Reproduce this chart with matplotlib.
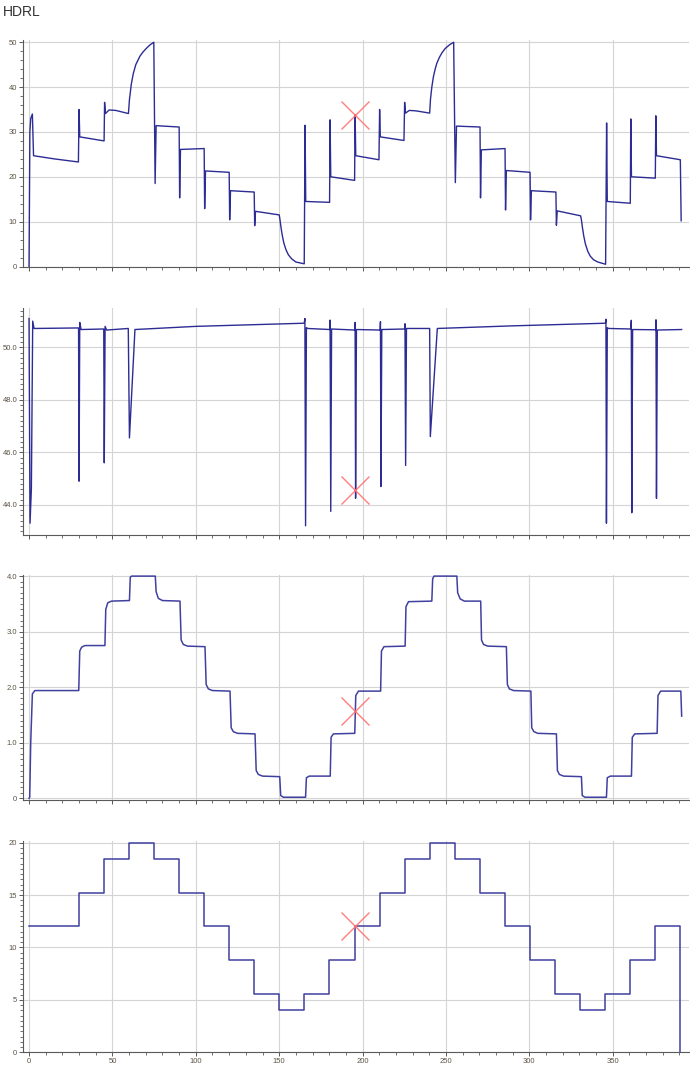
import numpy as np
import matplotlib
matplotlib.use("Agg")
import matplotlib.pyplot as plt
from matplotlib.ticker import MultipleLocator, FuncFormatter

# ==============================
# data
# ==============================

# panel 1
p1_x = [0, 0.5, 1.0, 2.0, 2.7, 15, 29.6,
        30.0, 30.4, 45,
        45.3, 45.8, 48, 52, 59.6,
        60.2, 61.3, 62.5, 64, 66.5, 68.5, 70.5, 72.5, 74.8,
        75.6, 76.2, 90, 90.3, 90.8, 105, 105.3, 105.8, 120, 120.3, 120.8, 135, 135.3, 135.8, 150,
        150.4, 151.0, 151.8, 152.8, 154.0, 155.5, 157.5, 160, 165,
        165.5, 165.9, 180.2, 180.5, 180.9, 195.2, 195.5, 195.9, 209.8, 210.2, 210.6, 224.8,
        225.2, 225.7, 228, 232, 240.2,
        240.7, 241.5, 242.5, 243.5, 244.5, 246, 247.5, 249.5, 252, 254.6,
        255.6, 256.3, 270.4, 270.7, 271.2, 285.4, 285.7, 286.2, 300.4, 300.7, 301.2, 315.9,
        316.2, 316.7, 330.7,
        331.2, 331.8, 332.6, 333.6, 335.0, 336.5, 338.5, 341, 345.7,
        346.3, 346.7, 360.5, 360.8, 361.2, 375.5, 375.8, 376.2, 390.5, 391.0]
p1_y = [0, 30, 33, 34, 24.7, 24.0, 23.3,
        35.0, 28.9, 28.0,
        36.6, 34.1, 34.9, 34.8, 34.1,
        37.2, 40.6, 43.0, 45.0, 46.9, 47.9, 48.7, 49.4, 50.0,
        18.5, 31.4, 31.1, 15.3, 26.1, 26.3, 12.9, 21.3, 21.0, 10.4, 16.9, 16.6, 9.1, 12.3, 11.5,
        10.6, 8.9, 7.0, 5.2, 3.8, 2.6, 1.7, 1.0, 0.6,
        31.5, 14.5, 14.3, 32.7, 20.0, 19.2, 33.8, 24.7, 23.8, 35.0, 28.9, 28.1,
        36.6, 34.2, 34.8, 34.7, 34.2,
        37.3, 40.0, 42.4, 44.0, 45.3, 46.6, 47.6, 48.6, 49.4, 50.0,
        18.7, 31.3, 31.1, 15.3, 26.0, 26.3, 12.6, 21.4, 21.0, 10.4, 16.9, 16.6,
        9.2, 12.4, 11.3,
        10.4, 8.7, 6.8, 5.0, 3.4, 2.3, 1.5, 1.0, 0.5,
        32.0, 14.5, 14.1, 32.9, 20.0, 19.7, 33.6, 24.7, 23.8, 10.2]

# panel 2
p2_x = [0, 0.6, 1.4, 2.2, 3.0, 29.7, 30.0, 30.4, 31.2, 44.8, 45.1, 45.6, 46.5,
        59.5, 60.2, 63.5, 100, 165, 165.4, 165.8, 166.3, 167,
        180.3, 180.5, 180.9, 181.4, 195.3, 195.5, 195.8, 196.3,
        210.5, 210.7, 211.0, 211.5, 225.2, 225.4, 225.8, 226.3,
        240.2, 240.6, 244.8, 290, 345.6, 345.9, 346.2, 346.7, 347.5,
        360.8, 361.1, 361.4, 361.9, 375.7, 375.9, 376.2, 376.7, 391.3]
p2_y = [51.1, 43.3, 44.6, 51.0, 50.72, 50.74, 44.9, 50.95, 50.68, 50.7, 45.6, 50.8, 50.66,
        50.72, 46.55, 50.68, 50.8, 50.92, 51.1, 43.2, 50.75, 50.72,
        50.68, 51.04, 43.75, 50.7, 50.66, 50.95, 44.25, 50.68,
        50.66, 50.98, 44.7, 50.68, 50.7, 50.9, 45.5, 50.72,
        50.72, 46.6, 50.72, 50.82, 50.92, 51.07, 43.3, 50.75, 50.72,
        50.7, 51.03, 43.7, 50.68, 50.67, 51.05, 44.25, 50.66, 50.68]

# panel 3
p3_x = [0, 0.4, 1.0, 2.0, 3.5,
        29.8, 30.4, 31.5, 33.5, 45.5, 46.0, 47.2, 49.5, 60.2, 60.7, 61.5,
        75.7, 76.2, 77.5, 80, 90.5, 91.2, 92.5, 95, 105.5, 106.2, 107.5, 110,
        120.5, 121.2, 122.5, 125, 135.5, 136.2, 137.5, 140, 150.3, 150.9, 152.5,
        165.8, 166.3, 168, 180.6, 181.1, 182.5, 195.3, 195.9, 197.5,
        210.8, 211.3, 212.8, 225.5, 226.0, 227.5, 241.5, 242.0, 242.8,
        256.5, 257.0, 258.5, 261, 270.8, 271.3, 272.5, 275, 286.2, 286.8, 288, 290.5,
        300.9, 301.4, 302.7, 305, 316.2, 316.8, 318, 320.5, 331.2, 331.7, 333.3,
        346.2, 346.7, 348.5, 361.2, 361.7, 363.2, 376.6, 377.1, 378.7, 390.8, 391.3]
p3_y = [0, 0.02, 1.0, 1.88, 1.94,
        1.94, 2.65, 2.72, 2.75, 2.75, 3.40, 3.52, 3.55, 3.56, 3.98, 4.0,
        4.0, 3.72, 3.60, 3.56, 3.55, 2.85, 2.77, 2.74, 2.73, 2.05, 1.97, 1.94,
        1.93, 1.27, 1.20, 1.17, 1.16, 0.50, 0.43, 0.40, 0.39, 0.05, 0.02,
        0.02, 0.37, 0.40, 0.40, 1.10, 1.16, 1.17, 1.85, 1.93,
        1.93, 2.65, 2.73, 2.74, 3.45, 3.54, 3.55, 3.95, 4.0,
        4.0, 3.70, 3.59, 3.55, 3.55, 2.85, 2.77, 2.74, 2.73, 2.05, 1.97, 1.94,
        1.93, 1.27, 1.20, 1.17, 1.16, 0.50, 0.43, 0.40, 0.39, 0.05, 0.02,
        0.02, 0.37, 0.40, 0.40, 1.10, 1.16, 1.17, 1.85, 1.93, 1.93, 1.48]

# panel 4 (steps)
p4_x = [0, 30, 45, 60, 75, 90, 105, 120, 135, 150, 165, 180, 195.3, 210.4, 225.3, 240.3,
        255.4, 270.4, 285.5, 300.5, 315.6, 330.5, 345.5, 360.5, 375.5, 390.5]
p4_y = [12, 15.2, 18.4, 20, 18.4, 15.2, 12, 8.8, 5.6, 4, 5.6, 8.8, 12, 15.2, 18.4, 20,
        18.4, 15.2, 12, 8.8, 5.6, 4, 5.6, 8.8, 12, 0]

# cursor marks
cursor_x = 195.5
cursor_y = [33.8, 44.55, 1.57, 12.0]

# ==============================
# plot
# ==============================
W, H = 690, 1068
fig = plt.figure(figsize=(W / 100, H / 100), dpi=100)
plt.rcParams['font.family'] = ['Liberation Sans', 'DejaVu Sans']

fig.text(3 / W, 1 - 5 / H, 'HDRL', fontsize=10, color='#333333', ha='left', va='top')

left, right = 22.7, 689
boxes = [(40, 266.5), (308, 535), (575, 800), (841, 1052.3)]
ylims = [(0, 50.5), (42.85, 51.5), (-0.03, 4.02), (0, 20.15)]
ymaj = [10, 2, 1, 5]
ymin = [2, 0.2, 0.1, 0.5]

def fmt_int(v, pos):
    return '0' if abs(v) < 1e-9 else '%g' % v

def fmt_one(v, pos):
    return '0' if abs(v) < 1e-9 else '%.1f' % v

fmts = [fmt_int, fmt_one, fmt_one, fmt_int]
line_col = '#2c2c94'
label_col = '#5b5345'

axes = []
for i, (top, bot) in enumerate(boxes):
    ax = fig.add_axes([left / W, 1 - bot / H, (right - left) / W, (bot - top) / H])
    axes.append(ax)
    ax.set_xlim(-3.8, 395.7)
    ax.set_ylim(*ylims[i])
    ax.xaxis.set_major_locator(MultipleLocator(50))
    ax.xaxis.set_minor_locator(MultipleLocator(10))
    ax.yaxis.set_major_locator(MultipleLocator(ymaj[i]))
    ax.yaxis.set_minor_locator(MultipleLocator(ymin[i]))
    ax.yaxis.set_major_formatter(FuncFormatter(fmts[i]))
    ax.grid(True, which='major', color='#d4d4d4', lw=0.8)
    ax.set_axisbelow(True)
    for s in ['top', 'right']:
        ax.spines[s].set_visible(False)
    for s in ['left', 'bottom']:
        ax.spines[s].set_color('#5a5a5a')
        ax.spines[s].set_linewidth(0.8)
    ax.tick_params(which='major', length=3, width=0.7, color='#5a5a5a',
                   labelsize=5.5, labelcolor=label_col, pad=1)
    ax.tick_params(which='minor', length=2, width=0.6, color='#5a5a5a')
    if i < 3:
        ax.tick_params(axis='x', labelbottom=False)

axes[0].plot(p1_x, p1_y, color=line_col, lw=1.0)
axes[1].plot(p2_x, p2_y, color=line_col, lw=1.0)
axes[2].plot(p3_x, p3_y, color='#4040a0', lw=1.1)
axes[3].plot(p4_x, p4_y, color='#4040a0', lw=1.1, drawstyle='steps-post')

for ax, cy in zip(axes, cursor_y):
    ax.plot([cursor_x], [cy], marker='x', markersize=20, mew=1.0, color='#ff7070',
            ls='none', alpha=0.9, clip_on=False)

plt.savefig('out.png', dpi=100)
